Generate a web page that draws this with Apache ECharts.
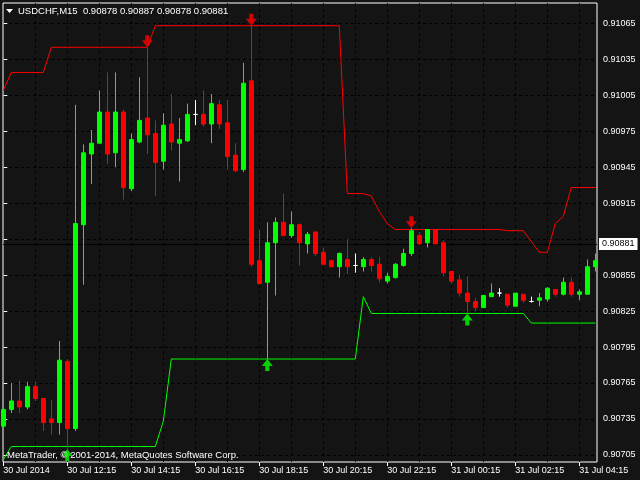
<!DOCTYPE html>
<html><head><meta charset="utf-8">
<script src="https://cdn.jsdelivr.net/npm/echarts@6/dist/echarts.min.js"></script>
<style>html,body{margin:0;padding:0;background:#141414}#c{width:640px;height:480px}</style>
</head><body><div id="c"></div>
<script>
const symbolName = 'USDCHF,M15';
const headerOHLC = ['0.90878', '0.90887', '0.90878', '0.90881'];
const copyright = 'MetaTrader, \u00a9 2001-2014, MetaQuotes Software Corp.';
const timeLabels = ['30 Jul 2014', '30 Jul 12:15', '30 Jul 14:15', '30 Jul 16:15', '30 Jul 18:15',
  '30 Jul 20:15', '30 Jul 22:15', '31 Jul 00:15', '31 Jul 02:15', '31 Jul 04:15'];
const labelBars = [0, 8, 16, 24, 32, 40, 48, 56, 64, 72];
const gridBars = [4, 8, 12, 16, 20, 24, 28, 32, 36, 40, 44, 48, 52, 56, 60, 64, 68, 72];
const priceLevels = [0.90705, 0.90735, 0.90765, 0.90795, 0.90825, 0.90855, 0.90885,
  0.90915, 0.90945, 0.90975, 0.91005, 0.91035, 0.91065];
const hiddenPriceLabels = [0.90885];
const lastPrice = 0.90881;

const opens = [0.90729,0.90743,0.90750,0.90745,0.90762,0.90752,0.90735,0.90732,0.90783,0.90727,
  0.90897,0.90956,0.90965,0.90991,0.90957,0.90991,0.90927,0.90966,0.90986,0.90973,
  0.90950,0.90981,0.90965,0.90967,0.90989,0.90989,0.90981,0.90997,0.90982,0.90955,
  0.90943,0.91017,0.90867,0.90849,0.90882,0.90899,0.90888,0.90897,0.90881,0.90891,
  0.90874,0.90867,0.90862,0.90868,0.90863,0.90862,0.90868,0.90864,0.90850,0.90853,
  0.90863,0.90873,0.90888,0.90882,0.90893,0.90882,0.90858,0.90851,0.90840,0.90833,
  0.90828,0.90837,0.90840,0.90839,0.90829,0.90839,0.90833,0.90834,0.90835,0.90843,
  0.90839,0.90849,0.90839,0.90839,0.90862];
const closes = [0.90743,0.90750,0.90745,0.90762,0.90752,0.90732,0.90732,0.90784,0.90727,0.90898,
  0.90957,0.90965,0.90991,0.90956,0.90991,0.90928,0.90968,0.90984,0.90972,0.90949,
  0.90980,0.90966,0.90968,0.90989,0.90989,0.90981,0.90998,0.90981,0.90954,0.90942,
  0.91015,0.90864,0.90848,0.90882,0.90899,0.90888,0.90897,0.90882,0.90889,0.90873,
  0.90864,0.90862,0.90873,0.90862,0.90863,0.90868,0.90863,0.90852,0.90854,0.90864,
  0.90873,0.90892,0.90881,0.90893,0.90881,0.90857,0.90850,0.90840,0.90833,0.90828,
  0.90838,0.90840,0.90840,0.90830,0.90840,0.90834,0.90833,0.90836,0.90844,0.90839,
  0.90849,0.90839,0.90841,0.90862,0.90867];
const lows = [0.90729,0.90740,0.90740,0.90743,0.90750,0.90725,0.90722,0.90722,0.90710,0.90725,
  0.90847,0.90931,0.90965,0.90948,0.90945,0.90918,0.90925,0.90965,0.90956,0.90921,
  0.90943,0.90959,0.90933,0.90966,0.90980,0.90979,0.90965,0.90977,0.90943,0.90941,
  0.90941,0.90862,0.90847,0.90785,0.90838,0.90888,0.90886,0.90863,0.90873,0.90871,
  0.90864,0.90862,0.90853,0.90856,0.90857,0.90858,0.90858,0.90849,0.90848,0.90852,
  0.90862,0.90871,0.90880,0.90878,0.90881,0.90854,0.90848,0.90837,0.90823,0.90825,
  0.90828,0.90837,0.90837,0.90828,0.90829,0.90832,0.90832,0.90829,0.90833,0.90837,
  0.90838,0.90837,0.90834,0.90839,0.90858];
const highs = [0.90743,0.90765,0.90767,0.90766,0.90766,0.90752,0.90751,0.90800,0.90785,0.90997,
  0.90964,0.90976,0.91009,0.91024,0.91024,0.90993,0.90973,0.91020,0.91045,0.90984,
  0.90990,0.91006,0.90986,0.90998,0.91001,0.91009,0.91006,0.91001,0.91001,0.90965,
  0.91032,0.91063,0.90893,0.90899,0.90903,0.90923,0.90908,0.90898,0.90891,0.90891,
  0.90878,0.90868,0.90874,0.90885,0.90873,0.90870,0.90870,0.90870,0.90857,0.90865,
  0.90877,0.90894,0.90891,0.90893,0.90893,0.90884,0.90858,0.90855,0.90854,0.90836,
  0.90838,0.90848,0.90844,0.90839,0.90840,0.90839,0.90837,0.90840,0.90845,0.90843,
  0.90853,0.90853,0.90843,0.90868,0.90873];
const resistance = [0.91009,
  0.91024,0.91024,0.91024,0.91024,0.91024,
  0.91045,0.91045,0.91045,0.91045,0.91045,0.91045,0.91045,0.91045,0.91045,0.91045,0.91045,0.91045,0.91045,
  0.91063,0.91063,0.91063,0.91063,0.91063,0.91063,0.91063,0.91063,0.91063,0.91063,0.91063,0.91063,
  0.91063,0.91063,0.91063,0.91063,0.91063,0.91063,0.91063,0.91063,0.91063,0.91063,0.91063,0.91063,
  0.90923,0.90923,0.90923,0.90921,0.90908,0.90898,
  0.90893,0.90893,0.90893,0.90893,0.90893,0.90893,0.90893,0.90893,0.90893,0.90893,0.90893,0.90893,0.90893,0.90893,
  0.90892,0.90892,0.90892,0.90883,0.90874,0.90874,0.90898,0.90904,
  0.90928,0.90928,0.90928,0.90928];
const support = [0.90701,
  0.90712,0.90712,0.90712,0.90712,0.90712,0.90712,0.90712,0.90712,0.90712,0.90712,
  0.90712,0.90712,0.90712,0.90712,0.90712,0.90712,0.90712,0.90712,0.90712,
  0.90733,
  0.90785,0.90785,0.90785,0.90785,0.90785,0.90785,0.90785,0.90785,0.90785,0.90785,0.90785,0.90785,
  0.90785,0.90785,0.90785,0.90785,0.90785,0.90785,0.90785,0.90785,0.90785,0.90785,0.90785,0.90785,
  0.90837,
  0.90823,0.90823,0.90823,0.90823,0.90823,0.90823,0.90823,0.90823,0.90823,0.90823,
  0.90823,0.90823,0.90823,0.90823,0.90823,0.90823,0.90823,0.90823,0.90823,0.90823,
  0.90815,0.90815,0.90815,0.90815,0.90815,0.90815,0.90815,0.90815,0.90815];
const sellArrowBars = [18, 31, 51];
const buyArrowBars = [8, 33, 58];

const FONT = 'Liberation Sans';
const UP = '#00ff00', DOWN = '#ff0000';
const downArrow = 'path://M3.5,0 L7.5,0 L7.5,5 L11,5 L5.5,12 L0,5 L3.5,5 Z';
const upArrow = 'path://M5.5,0 L11,7 L7.5,7 L7.5,12 L3.5,12 L3.5,7 L0,7 Z';

const candleData = opens.map((o, i) => [i, o, closes[i], lows[i], highs[i]]);
const chart = echarts.init(document.getElementById('c'), null, {renderer: 'canvas'});
chart.setOption({
  animation: false,
  backgroundColor: '#141414',
  grid: {left: 3, top: 3, right: 43, bottom: 18, show: true, borderColor: '#ffffff', borderWidth: 1, backgroundColor: 'transparent'},
  xAxis: [{
    type: 'value', min: -0.0375, max: 74.2125, position: 'bottom',
    axisLine: {show: false},
    axisTick: {show: true, length: 4, lineStyle: {color: '#ffffff'}, customValues: labelBars},
    axisLabel: {show: true, customValues: labelBars, color: '#ffffff', fontFamily: FONT, fontSize: 9, align: 'left', margin: 4,
      formatter: v => timeLabels[labelBars.indexOf(Math.round(v))] || ''},
    splitLine: {show: false}
  }, {
    type: 'value', min: -0.0375, max: 74.2125, position: 'top',
    axisLine: {show: false}, axisLabel: {show: false},
    axisTick: {show: false, customValues: gridBars},
    splitLine: {show: true, lineStyle: {color: '#000000', type: [3, 3], width: 1}}
  }],
  yAxis: {
    type: 'value', position: 'right', min: 0.9069911, max: 0.9108193, scale: true,
    axisLine: {show: false},
    axisTick: {show: true, length: 4, lineStyle: {color: '#ffffff'}, customValues: priceLevels},
    axisLabel: {show: true, customValues: priceLevels.filter(v => hiddenPriceLabels.indexOf(v) < 0),
      color: '#ffffff', fontFamily: FONT, fontSize: 9, margin: 6, formatter: v => v.toFixed(5)},
    splitLine: {show: true, lineStyle: {color: '#000000', type: [3, 3], width: 1}}
  },
  series: [{
    type: 'line', xAxisIndex: 0, data: resistance.map((v, i) => [i, v]), showSymbol: false, symbol: 'none',
    lineStyle: {color: DOWN, width: 1}, z: 2, silent: true,
    markLine: {silent: true, z: 1, precision: 5, symbol: ['none', 'none'], animation: false,
      lineStyle: {color: '#000000', type: 'solid', width: 1},
      label: {show: true, position: 'end', distance: 2, formatter: () => lastPrice.toFixed(5), color: '#000000',
        backgroundColor: '#ffffff', padding: [2, 3, 1, 3], fontFamily: FONT, fontSize: 9},
      data: [{yAxis: lastPrice}]}
  }, {
    type: 'line', xAxisIndex: 0, data: support.map((v, i) => [i, v]), showSymbol: false, symbol: 'none',
    lineStyle: {color: UP, width: 1}, z: 2, silent: true
  }, {
    type: 'candlestick', xAxisIndex: 0, data: candleData, barWidth: 4, z: 3, silent: true,
    itemStyle: {color: UP, color0: DOWN, borderColor: UP, borderColor0: DOWN, borderColorDoji: '#ffffff', borderWidth: 1}
  }, {
    type: 'scatter', xAxisIndex: 0, data: sellArrowBars.map(i => [i, highs[i]]), symbol: downArrow,
    symbolSize: [11, 12], symbolOffset: [0, -6], itemStyle: {color: DOWN}, z: 4, silent: true
  }, {
    type: 'scatter', xAxisIndex: 0, data: buyArrowBars.map(i => [i, lows[i]]), symbol: upArrow,
    symbolSize: [11, 12], symbolOffset: [0, 6], itemStyle: {color: UP}, z: 4, silent: true
  }],
  graphic: [
    {type: 'polygon', shape: {points: [[6, 9], [13, 9], [9.5, 13]]}, style: {fill: '#ffffff'}, z: 10},
    {type: 'text', x: 18, y: 11, z: 10, style: {text: symbolName + '  ' + headerOHLC.join(' '), fill: '#ffffff',
      font: '9.5px "Liberation Sans"', verticalAlign: 'middle', align: 'left'}},
    {type: 'text', x: 7, y: 455, z: 10, style: {text: copyright, fill: '#ffffff',
      font: '9.5px "Liberation Sans"', verticalAlign: 'middle', align: 'left'}}
  ]
});
</script></body></html>
